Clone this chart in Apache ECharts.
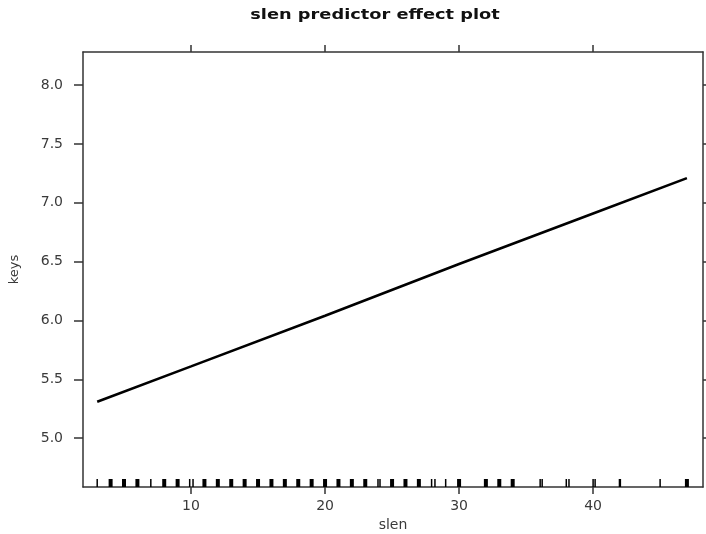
<!DOCTYPE html>
<html>
<head>
<meta charset="utf-8">
<script src="https://cdn.jsdelivr.net/npm/echarts@6/dist/echarts.min.js"></script>
<style>html,body{margin:0;padding:0;background:#fff}#c{width:706px;height:534px}</style>
</head>
<body>
<div id="c"></div>
<script>
// ---- data ----
var titleText = 'slen predictor effect plot';
var xName = 'slen';
var yName = 'keys';
var xTicks = [10, 20, 30, 40];
var yTicks = [5.0, 5.5, 6.0, 6.5, 7.0, 7.5, 8.0];
var xRange = [1.94, 48.2];
var yRange = [4.585, 8.282];
var effectX = [3, 10, 20, 30, 40, 47];
var effectY = [5.31, 5.61, 6.04, 6.48, 6.91, 7.21];
var rugValues = [3, 4, 5, 6, 7, 8, 9, 9.9, 10.15, 11, 12, 13, 14, 15, 16, 17, 18, 19, 20, 21, 22, 23, 23.95, 24.1, 25, 26, 27, 27.95, 28.2, 29, 30, 32, 33, 34, 36.05, 36.2, 38.0, 38.2, 40.0, 40.15, 42, 45, 47];
var rugCounts = [1, 3, 3, 3, 1, 3, 3, 1, 1, 3, 3, 3, 3, 3, 3, 3, 3, 3, 3, 3, 3, 3, 1, 1, 3, 3, 3, 1, 1, 1, 3, 3, 3, 3, 1, 1, 1, 1, 1, 1, 2, 1, 3];

// ---- chart ----
var chart = echarts.init(document.getElementById('c'), null, {renderer: 'canvas'});
var axisColor = '#333';
var labelColor = '#3a3a3a';
var font = 'DejaVu Sans';
var lineData = effectX.map(function (x, i) { return [x, effectY[i]]; });
var rugData = rugValues.map(function (v, i) { return [v, rugCounts[i]]; });

function xAxisBase(pos, showLabel) {
  return {
    type: 'value', position: pos, min: xRange[0], max: xRange[1],
    splitLine: {show: false},
    axisLine: {show: true, onZero: false, lineStyle: {color: axisColor, width: 1.5}},
    axisTick: {show: true, inside: false, length: 7, customValues: xTicks, lineStyle: {color: axisColor, width: 1.5}},
    axisLabel: {show: showLabel, customValues: xTicks, color: labelColor, fontFamily: font, fontSize: 14, margin: 12},
    name: showLabel ? xName : '', nameLocation: 'middle', nameGap: 28,
    nameTextStyle: {color: labelColor, fontFamily: font, fontSize: 14}
  };
}
function yAxisBase(pos, showLabel) {
  return {
    type: 'value', position: pos, min: yRange[0], max: yRange[1],
    splitLine: {show: false},
    axisLine: {show: true, onZero: false, lineStyle: {color: axisColor, width: 1.5}},
    axisTick: {show: true, inside: false, length: 9, customValues: yTicks, lineStyle: {color: axisColor, width: 1.5}},
    axisLabel: {show: showLabel, customValues: yTicks, color: labelColor, fontFamily: font, fontSize: 14, margin: 20,
      formatter: function (v) { return Number(v).toFixed(1); }},
    name: showLabel ? yName : '', nameLocation: 'middle', nameGap: 62, nameRotate: 90,
    nameTextStyle: {color: labelColor, fontFamily: font, fontSize: 13}
  };
}

chart.setOption({
  animation: false,
  backgroundColor: '#fff',
  graphic: [{
    type: 'text', x: 375, y: 15, scaleX: 1.27, scaleY: 1,
    style: {
      text: titleText, textAlign: 'center', textVerticalAlign: 'middle',
      font: 'bold 14px "DejaVu Sans"', fill: '#111'
    }
  }],
  grid: {left: 83, right: 3, top: 52, bottom: 47, containLabel: false, outerBoundsMode: 'none'},
  xAxis: [xAxisBase('bottom', true), xAxisBase('top', false)],
  yAxis: [yAxisBase('left', true), yAxisBase('right', false)],
  series: [
    {
      type: 'line', data: lineData, showSymbol: false, symbol: 'none',
      lineStyle: {color: '#000', width: 2.6}, xAxisIndex: 0, yAxisIndex: 0
    },
    {
      type: 'custom', data: rugData, xAxisIndex: 0, yAxisIndex: 0,
      renderItem: function (params, api) {
        var p = api.coord([api.value(0), yRange[0]]);
        var n = api.value(1);
        var w = n >= 3 ? 4 : (n === 2 ? 2.4 : 1.5);
        return {
          type: 'rect',
          shape: {x: p[0] - w / 2, y: p[1] - 8, width: w, height: 8},
          style: {fill: '#000'}
        };
      }
    }
  ]
});
</script>
</body>
</html>
